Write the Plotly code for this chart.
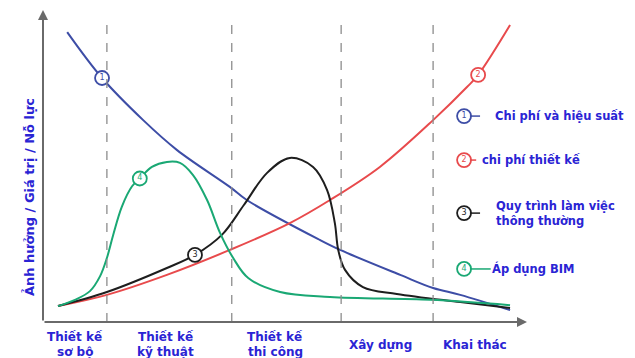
import plotly.graph_objects as go

# Project timeline (0-100) vs effort / value (0-100)
phase_bounds = [13.2, 39.0, 61.6, 80.6]
phase_labels = [
    ("Thiết kế", "sơ bộ"),
    ("Thiết kế", "kỹ thuật"),
    ("Thiết kế", "thi công"),
    ("Xây dựng", ""),
    ("Khai thác", ""),
]
phase_label_x = [6.6, 25.4, 48.0, 69.8, 89.3]

# 1 - ability to impact cost and performance
cost_perf_x = [5.0, 12.2, 20.7, 27.7, 38.6, 42.1, 57.2, 61.4, 73.8, 80.6, 86.2, 96.5]
cost_perf_y = [92.9, 78.2, 64.7, 55.1, 43.3, 39.1, 26.3, 23.1, 15.1, 10.9, 8.7, 3.8]

# 2 - cost of design changes
design_cost_x = [3.1, 13.2, 25.6, 38.6, 51.0, 59.3, 69.6, 80.6, 87.6, 89.9, 96.5]
design_cost_y = [5.1, 8.7, 15.1, 23.1, 31.7, 39.1, 49.7, 64.7, 75.3, 79.2, 95.2]

# 3 - traditional workflow
traditional_x = [3.1, 13.2, 25.6, 31.4, 37.0, 41.5, 46.3, 51.0, 55.8, 58.7, 60.3, 61.0,
                 62.4, 66.1, 73.1, 86.2, 96.5]
traditional_y = [5.1, 9.6, 17.3, 21.5, 28.0, 37.5, 47.8, 52.6, 49.7, 42.3, 31.7, 23.1,
                 16.7, 11.2, 9.0, 6.4, 4.5]

# 4 - BIM workflow
bim_x = [3.1, 6.6, 9.7, 11.8, 13.2, 14.5, 16.3, 18.4, 20.0, 22.5, 25.6, 28.3, 31.0, 33.9,
         36.6, 39.3, 42.4, 49.0, 59.3, 80.0, 96.5]
bim_y = [5.1, 7.1, 9.9, 14.7, 20.5, 27.9, 37.0, 43.5, 46.0, 49.7, 51.3, 51.0, 47.1, 39.1,
         28.5, 20.5, 14.1, 9.6, 8.0, 7.1, 5.4]

series_names = ["Chi phí và hiệu suất", "chi phí thiết kế",
                "Quy trình làm việc<br>thông thường", "Áp dụng BIM"]
series_colors = ["#3d4da6", "#e84a4c", "#1e1e1e", "#1aa874"]
series_x = [cost_perf_x, design_cost_x, traditional_x, bim_x]
series_y = [cost_perf_y, design_cost_y, traditional_y, bim_y]
badge_index = [1, 9, 3, 8]
badge_numbers = ["1", "2", "3", "4"]

TEXT_BLUE = "#2a24d4"
FONT = "DejaVu Sans"

fig = go.Figure()

for xs, ys, col in zip(series_x, series_y, series_colors):
    fig.add_trace(go.Scatter(
        x=xs, y=ys, mode="lines",
        line=dict(color=col, width=2, shape="spline", smoothing=1.0),
        hoverinfo="skip", showlegend=False, cliponaxis=False,
    ))

# numbered badges sitting on each curve
for xs, ys, col, idx, num in zip(series_x, series_y, series_colors, badge_index, badge_numbers):
    fig.add_trace(go.Scatter(
        x=[xs[idx]], y=[ys[idx]], mode="markers+text",
        marker=dict(size=14, color="white", line=dict(color=col, width=1.8)),
        text=[num], textposition="middle center",
        textfont=dict(size=8, color=col, family=FONT),
        hoverinfo="skip", showlegend=False, cliponaxis=False,
    ))

# custom legend on the right
legend_y = [66.0, 51.9, 34.9, 17.0]
legend_line_end = [90.3, 89.5, 90.3, 92.5]
legend_text_x = [93.0, 90.3, 93.2, 92.4]
for ly, lend, tx, col, num, name in zip(legend_y, legend_line_end, legend_text_x,
                                        series_colors, badge_numbers, series_names):
    fig.add_shape(type="line", x0=88.2, x1=lend, y0=ly, y1=ly,
                  line=dict(color=col, width=1.5))
    fig.add_trace(go.Scatter(
        x=[87.0], y=[ly], mode="markers+text",
        marker=dict(size=14, color="white", line=dict(color=col, width=1.8)),
        text=[num], textposition="middle center",
        textfont=dict(size=8, color=col, family=FONT),
        hoverinfo="skip", showlegend=False, cliponaxis=False,
    ))
    fig.add_annotation(x=tx, y=ly, text="<b>" + name + "</b>", showarrow=False,
                       xanchor="left", yanchor="middle", align="left",
                       font=dict(size=11.5, color=TEXT_BLUE, family=FONT))

# phase boundaries
for b in phase_bounds:
    fig.add_shape(type="line", x0=b, x1=b, y0=0, y1=95.2,
                  line=dict(color="#8c8c8c", width=1.3, dash="dash"))

# axes with arrowheads
fig.add_annotation(x=0, y=100, ax=0, ay=0, xref="x", yref="y", axref="x", ayref="y",
                   showarrow=True, arrowhead=2, arrowsize=1, arrowwidth=2,
                   arrowcolor="#6a6a6a", text="")
fig.add_annotation(x=100, y=0, ax=0, ay=0, xref="x", yref="y", axref="x", ayref="y",
                   showarrow=True, arrowhead=2, arrowsize=1, arrowwidth=2,
                   arrowcolor="#6a6a6a", text="")

# phase labels under the x axis
for (l1, l2), px in zip(phase_labels, phase_label_x):
    if l2:
        fig.add_annotation(x=px, y=0, yref="y", text="<b>" + l1 + "</b>", showarrow=False,
                           yshift=-15, font=dict(size=12, color=TEXT_BLUE, family=FONT))
        fig.add_annotation(x=px, y=0, yref="y", text="<b>" + l2 + "</b>", showarrow=False,
                           yshift=-29.5, font=dict(size=12, color=TEXT_BLUE, family=FONT))
    else:
        fig.add_annotation(x=px, y=0, yref="y", text="<b>" + l1 + "</b>", showarrow=False,
                           yshift=-23, font=dict(size=12, color=TEXT_BLUE, family=FONT))

# y axis title
fig.add_annotation(x=-0.05, y=0.40, xref="paper", yref="paper",
                   text="<b>Ảnh hưởng / Giá trị / Nỗ lực</b>", textangle=-90,
                   showarrow=False, font=dict(size=13, color=TEXT_BLUE, family=FONT))

fig.update_layout(
    width=635, height=358,
    margin=dict(l=43, r=108, t=10, b=36),
    paper_bgcolor="white", plot_bgcolor="white",
    xaxis=dict(range=[0, 100], visible=False, fixedrange=True),
    yaxis=dict(range=[0, 100], visible=False, fixedrange=True),
    showlegend=False,
)

fig.write_html("out.html")
